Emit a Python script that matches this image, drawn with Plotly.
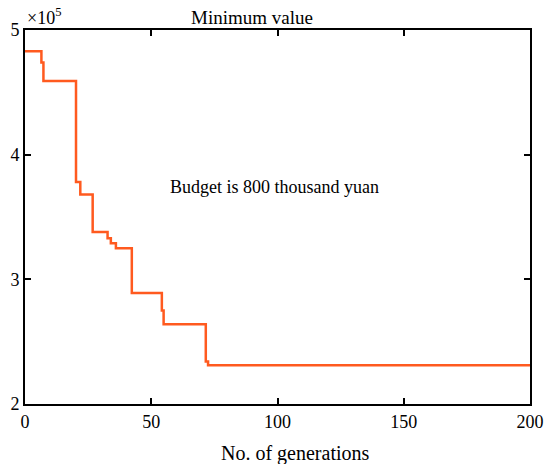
import plotly.graph_objects as go

# Data (objective value in units of 1e5)
generations = [0, 6.5, 7.3, 20.2, 21.9, 26.8, 32.7, 34.0, 36.0, 42.3, 54.2, 54.9, 71.6, 72.5, 200]
min_value = [4.83, 4.74, 4.59, 3.78, 3.68, 3.38, 3.33, 3.29, 3.25, 2.89, 2.75, 2.64, 2.34, 2.31, 2.31]
x_ticks = [0, 50, 100, 150, 200]
y_ticks = [2, 3, 4, 5]

FONT = "Liberation Serif, Times New Roman, serif"

fig = go.Figure()
fig.add_trace(go.Scatter(
    x=generations, y=min_value, mode="lines", line_shape="hv",
    line=dict(color="#FF5A1F", width=2.5), showlegend=False, hoverinfo="skip"))

fig.add_annotation(x=99, y=3.74, xref="x", yref="y", text="Budget is 800 thousand yuan",
                   showarrow=False, font=dict(family=FONT, size=18, color="black"))
fig.add_annotation(x=0.0, y=1.0, xref="paper", yref="paper", xanchor="left", yanchor="bottom",
                   text="×10<sup>5</sup>", showarrow=False, yshift=0,
                   font=dict(family=FONT, size=18, color="black"))
fig.add_annotation(x=0.45, y=1.0, xref="paper", yref="paper", xanchor="center", yanchor="bottom",
                   text="Minimum value", showarrow=False, yshift=0,
                   font=dict(family=FONT, size=19, color="black"))
fig.add_annotation(x=0.535, y=0, xref="paper", yref="paper", xanchor="center", yanchor="top",
                   text="No. of generations", showarrow=False, yshift=-36,
                   font=dict(family=FONT, size=20, color="black"))

fig.update_layout(
    width=544, height=464,
    margin=dict(l=25, r=14, t=30, b=60, autoexpand=False),
    paper_bgcolor="white", plot_bgcolor="white",
    font=dict(family=FONT, size=18, color="black"),
    xaxis=dict(range=[0, 200], tickvals=x_ticks, ticks="inside", ticklen=6, tickwidth=2,
               tickcolor="black", showline=True, linecolor="black", linewidth=2, mirror="ticks",
               showgrid=False, zeroline=False, automargin=False,
               tickfont=dict(family=FONT, size=18)),
    yaxis=dict(range=[2, 5], tickvals=y_ticks, ticks="inside", ticklen=6, tickwidth=2,
               tickcolor="black", showline=True, linecolor="black", linewidth=2, mirror="ticks",
               showgrid=False, zeroline=False, automargin=False,
               tickfont=dict(family=FONT, size=18)),
)

# remove the page's default 8px body margin so the figure fills the window exactly
fig.write_html("out.html", config={"displayModeBar": False},
               post_script="document.body.style.margin='0';")
